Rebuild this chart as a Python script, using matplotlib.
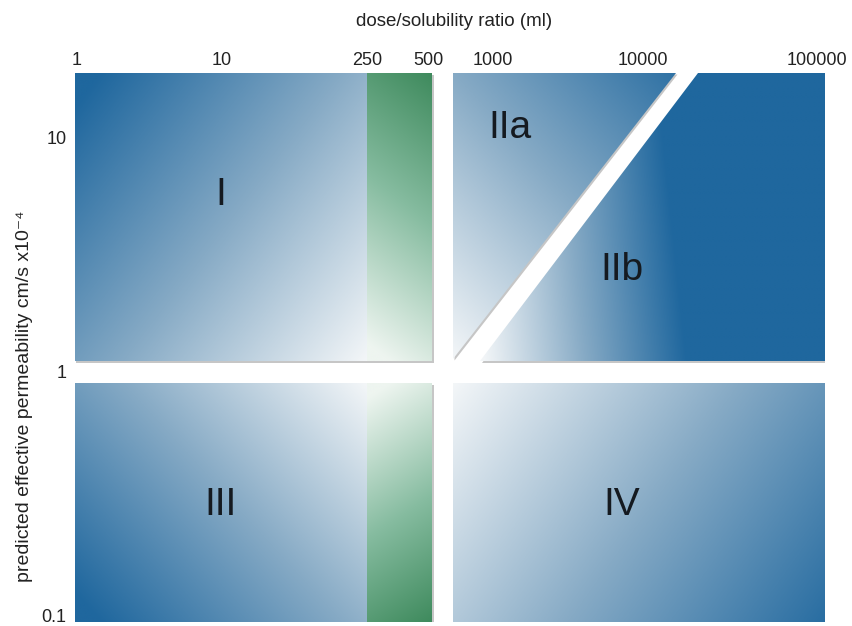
import numpy as np
import matplotlib.pyplot as plt
from matplotlib.patches import Polygon
from matplotlib.colors import LinearSegmentedColormap

# diagram units: x runs along dose/solubility, y along permeability (schematic, not to scale)
x_tick_pos = [1.5, 147, 292, 353, 418, 568, 742]
x_tick_labels = ["1", "10", "250", "500", "1000", "10000", "100000"]
y_tick_pos = [7, 250, 485]
y_tick_labels = ["0.1", "1", "10"]

# class borders in the same units
left_x = [0, 292, 357]      # panel start, 250 ml, 500 ml
right_x = [378, 750]
low_y = [0, 239]
high_y = [261, 549]
# white split between IIa and IIb: (bottom point, top point) of each edge
split_a = [(378, 263), (601, 549)]
split_b = [(405, 261), (623, 549)]

class_names = ["I", "IIa", "IIb", "III", "IV"]
class_x = [146, 435, 547, 146, 547]
class_y = [427, 494, 352, 117, 117]

blues = LinearSegmentedColormap.from_list(
    "bcs_blue", [(0, "#f3f6f8"), (0.5, "#86aac5"), (1, "#1f679e")])
greens = LinearSegmentedColormap.from_list(
    "bcs_green", [(0, "#eef5f0"), (0.5, "#86bca0"), (1, "#378556")])

fig = plt.figure(figsize=(8.53, 6.26), dpi=100)
ax = fig.add_axes([75 / 853, 4 / 626, 750 / 853, 549 / 626])
ax.set_xlim(0, 750)
ax.set_ylim(0, 549)


def shade(x0, x1, y0, y1, tfunc, cmap, clip=None):
    u, v = np.meshgrid(np.linspace(0, 1, 300), np.linspace(0, 1, 300))
    t = np.clip(tfunc(u, v), 0, 1)
    im = ax.imshow(t, extent=[x0, x1, y0, y1], origin="lower", aspect="auto",
                   cmap=cmap, vmin=0, vmax=1, interpolation="bilinear", zorder=2)
    if clip is not None:
        im.set_clip_path(clip)
    return im


def shadow(xy):
    ax.add_patch(Polygon([(px + 1.5, py - 1.5) for px, py in xy], closed=True,
                         facecolor="#c6c6c6", edgecolor="none", zorder=1))


def rect_xy(x0, x1, y0, y1):
    return [(x0, y0), (x1, y0), (x1, y1), (x0, y1)]


# class I and III (left, blue) + 250-500 ml band (green)
shadow(rect_xy(left_x[0], left_x[2], high_y[0], high_y[1]))
shadow(rect_xy(left_x[0], left_x[2], low_y[0], low_y[1]))
shade(left_x[0], left_x[1], high_y[0], high_y[1],
      lambda u, v: 0.6 * (1 - u) + 0.45 * v, blues)
shade(left_x[0], left_x[1], low_y[0], low_y[1],
      lambda u, v: 0.6 * (1 - u) + 0.45 * (1 - v), blues)
shade(left_x[1], left_x[2], high_y[0], high_y[1],
      lambda u, v: 0.85 * v + 0.15 * u - 0.05, greens)
shade(left_x[1], left_x[2], low_y[0], low_y[1],
      lambda u, v: 0.85 * (1 - v) + 0.15 * u - 0.05, greens)

# class IV
shadow(rect_xy(right_x[0], right_x[1], low_y[0], low_y[1]))
shade(right_x[0], right_x[1], low_y[0], low_y[1],
      lambda u, v: 0.65 * u + 0.3 * (1 - v), blues)

# class IIa / IIb
poly_a = [split_a[0], split_a[1], (right_x[0], high_y[1])]
poly_b = [split_b[0], (right_x[1], high_y[0]), (right_x[1], high_y[1]), split_b[1]]
shadow(poly_a)
shadow(poly_b)
clip_a = Polygon(poly_a, closed=True, transform=ax.transData)
clip_b = Polygon(poly_b, closed=True, transform=ax.transData)
shade(right_x[0], right_x[1], high_y[0], high_y[1],
      lambda u, v: 0.5 * v + 0.7 * u, blues, clip=clip_a)
shade(right_x[0], right_x[1], high_y[0], high_y[1],
      lambda u, v: (u - 0.08) / 0.55 + 0.15 * v, blues, clip=clip_b)

for name, cx, cy in zip(class_names, class_x, class_y):
    ax.text(cx, cy, name, ha="center", va="center", fontsize=28,
            family="Liberation Sans", color="#151a20", zorder=5)

for s in ax.spines.values():
    s.set_visible(False)
ax.xaxis.tick_top()
ax.set_xticks(x_tick_pos, x_tick_labels)
ax.set_yticks(y_tick_pos, y_tick_labels)
ax.tick_params(axis="x", length=0, pad=3, labelsize=13, labelcolor="#222222")
ax.tick_params(axis="y", length=0, pad=6, labelsize=13, labelcolor="#222222")
for lab in ax.get_xticklabels() + ax.get_yticklabels():
    lab.set_family("Liberation Sans")

fig.text(454 / 853, 1 - 22 / 626, "dose/solubility ratio (ml)", ha="center", va="center",
         fontsize=13.5, family=["Liberation Sans", "DejaVu Sans"], color="#222222")
fig.text(25 / 853, 1 - 396 / 626, "predicted effective permeability cm/s x10\u207b\u2074",
         ha="center", va="center", rotation=90, fontsize=14,
         family=["Liberation Sans", "DejaVu Sans"], color="#222222")

fig.savefig("out.png", dpi=100)
